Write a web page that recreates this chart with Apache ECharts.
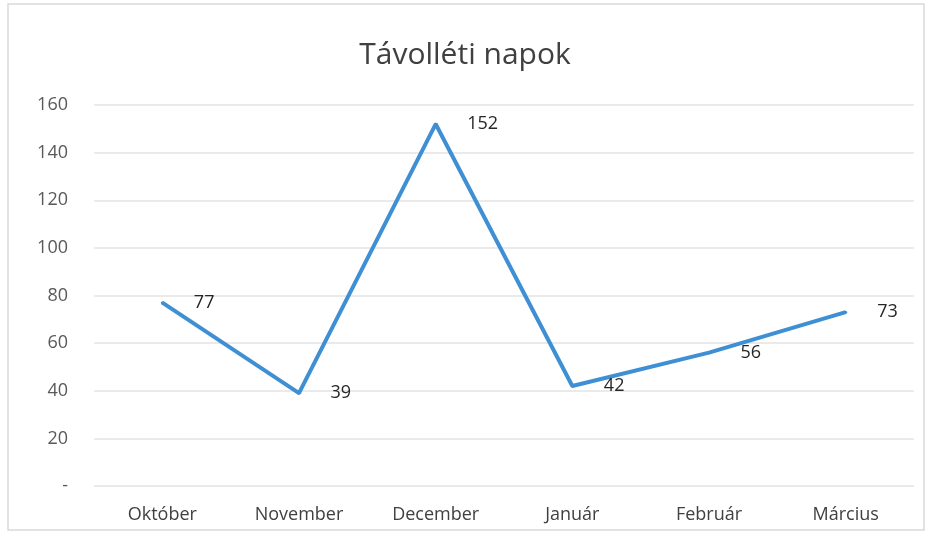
<!DOCTYPE html>
<html><head><meta charset="utf-8">
<script src="https://cdn.jsdelivr.net/npm/echarts@6/dist/echarts.min.js"></script>
<style>html,body{margin:0;padding:0;background:#fff}#c{width:930px;height:536px}</style>
</head><body><div id="c"></div>
<script>
const categories = ['Október','November','December','Január','Február','Március'];
const values = [77, 39, 152, 42, 56, 73];
const yTicks = [0,20,40,60,80,100,120,140,160];
const chart = echarts.init(document.getElementById('c'));
const font = 'Open Sans, Noto Sans, sans-serif';
chart.setOption({
  animation:false,
  graphic:[{type:'rect',shape:{x:8,y:4,width:916,height:526},style:{fill:'none',stroke:'#d9d9d9',lineWidth:1.5},silent:true}],
  title:{text:'Távolléti napok',left:'center',top:35,textStyle:{fontFamily:font,fontSize:30,fontWeight:'normal',color:'#404040'}},
  grid:{left:94,right:16,top:105,bottom:50},
  xAxis:{type:'category',data:categories,boundaryGap:true,
    axisLine:{show:false},axisTick:{show:false},
    axisLabel:{fontFamily:font,fontSize:18,color:'#404040',margin:20}},
  yAxis:{type:'value',min:yTicks[0],max:yTicks[yTicks.length-1],interval:20,
    axisLine:{show:false},axisTick:{show:false},
    splitLine:{lineStyle:{color:'#e3e3e3',width:1.5}},
    axisLabel:{fontFamily:font,fontSize:18,color:'#595959',margin:26,
      formatter:v=>v===0?'-':String(v)}},
  series:[{type:'line',data:values,symbol:'circle',symbolSize:3,showSymbol:true,
    itemStyle:{color:'#3f8fd4',borderWidth:0},
    lineStyle:{color:'#3f8fd4',width:4},
    label:{show:true,position:'right',distance:30,fontFamily:font,fontSize:18,color:'#262626'}}]
});
</script></body></html>
